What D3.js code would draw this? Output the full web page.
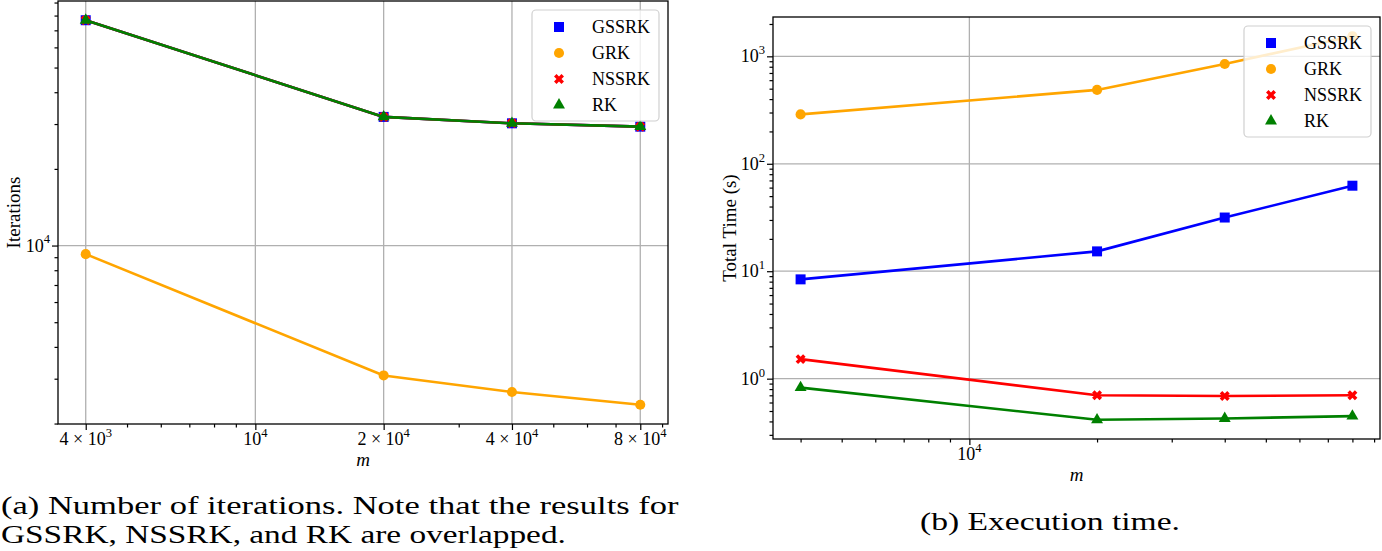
<!DOCTYPE html>
<html><head><meta charset="utf-8">
<script src="https://cdn.jsdelivr.net/npm/d3@7"></script>
</head><body style="margin:0;background:#fff">
<svg id="c" width="1382" height="551"></svg>
<script>
// ---------------- data ----------------
const mValues = [4000, 20000, 40000, 80000];
const seriesNames = ["GSSRK", "GRK", "NSSRK", "RK"];

const iterGSSRK = [76700, 32000, 30200, 29300];
const iterGRK   = [9250, 3090, 2660, 2370];
const iterNSSRK = [76700, 32000, 30200, 29300];
const iterRK    = [76700, 32000, 30200, 29300];

const timeGSSRK = [8.4, 15.3, 31.6, 62.5];
const timeGRK   = [288, 487, 849, 1540];
const timeNSSRK = [1.52, 0.70, 0.69, 0.70];
const timeRK    = [0.826, 0.414, 0.426, 0.448];

const leftXTicks = [4000, 10000, 20000, 40000, 80000];
const leftXTickLabels = ["4 × 10^3", "10^4", "2 × 10^4", "4 × 10^4", "8 × 10^4"];
const leftYTicks = [10000];
const leftYTickLabels = ["10^4"];
const rightXTicks = [10000];
const rightXTickLabels = ["10^4"];
const rightYTicks = [1, 10, 100, 1000];
const rightYTickLabels = ["10^0", "10^1", "10^2", "10^3"];

const xLabel = "m";
const leftYLabel = "Iterations";
const rightYLabel = "Total Time (s)";
const captionA = ["(a) Number of iterations. Note that the results for", "GSSRK, NSSRK, and RK are overlapped."];
const captionB = "(b) Execution time.";

// ---------------- styles ----------------
const colors = {GSSRK: "#0000ff", GRK: "#ffa500", NSSRK: "#ff0000", RK: "#008000"};
const symbols = {GSSRK: d3.symbolSquare, GRK: d3.symbolCircle, NSSRK: d3.symbolCross, RK: d3.symbolTriangle};
const symSize = {GSSRK: 100, GRK: 80, NSSRK: 62, RK: 62};
const symRot = {GSSRK: 0, GRK: 0, NSSRK: 45, RK: 0};
const FS = 18;
const FONT = '"Liberation Serif"';

const svg = d3.select("#c");

function padLog(vals) {
  const a = Math.log10(d3.min(vals)), b = Math.log10(d3.max(vals));
  const p = (b - a) * 0.05;
  return [Math.pow(10, a - p), Math.pow(10, b + p)];
}
function minorTicks(domain, exclude) {
  const out = [];
  const e0 = Math.floor(Math.log10(domain[0])), e1 = Math.ceil(Math.log10(domain[1]));
  for (let e = e0; e <= e1; e++) for (let k = 1; k <= 9; k++) {
    const v = k * Math.pow(10, e);
    if (v >= domain[0] && v <= domain[1] && !exclude.some(t => Math.abs(t - v) / v < 1e-9)) out.push(v);
  }
  return out;
}
function txt(sel) {
  return sel.append("text").style("font-family", FONT).attr("fill", "#000");
}
function supText(sel, str, size) {
  const parts = str.split("^");
  sel.append("tspan").style("font-family", FONT).style("font-size", size + "px").text(parts[0]);
  if (parts.length > 1) sel.append("tspan").attr("dy", -size * 0.45)
    .style("font-family", FONT).style("font-size", (size * 0.7) + "px").text(parts[1]);
}

function panel(p) {
  const g = svg.append("g");
  const allY = p.series.flatMap(s => s.values);
  const x = d3.scaleLog().domain(padLog(mValues)).range([p.left, p.right]);
  const y = d3.scaleLog().domain(padLog(allY)).range([p.bottom, p.top]);

  // grid
  g.append("g").selectAll("line").data(p.xTicks).join("line")
    .attr("x1", d => x(d)).attr("x2", d => x(d)).attr("y1", p.top).attr("y2", p.bottom)
    .attr("stroke", "#b0b0b0").attr("stroke-width", 1.3);
  g.append("g").selectAll("line").data(p.yTicks).join("line")
    .attr("y1", d => y(d)).attr("y2", d => y(d)).attr("x1", p.left).attr("x2", p.right)
    .attr("stroke", "#b0b0b0").attr("stroke-width", 1.3);

  // tick marks via d3 axes
  const styleAxis = a => { a.select(".domain").remove(); a.selectAll("line").attr("stroke", "#000").attr("stroke-width", 1.2); };
  g.append("g").attr("transform", `translate(0,${p.bottom})`)
    .call(d3.axisBottom(x).tickValues(minorTicks(x.domain(), p.xTicks)).tickSize(3.5).tickFormat("")).call(styleAxis);
  g.append("g").attr("transform", `translate(0,${p.bottom})`)
    .call(d3.axisBottom(x).tickValues(p.xTicks).tickSize(6).tickFormat("")).call(styleAxis);
  g.append("g").attr("transform", `translate(${p.left},0)`)
    .call(d3.axisLeft(y).tickValues(minorTicks(y.domain(), p.yTicks)).tickSize(3.5).tickFormat("")).call(styleAxis);
  g.append("g").attr("transform", `translate(${p.left},0)`)
    .call(d3.axisLeft(y).tickValues(p.yTicks).tickSize(6).tickFormat("")).call(styleAxis);

  // tick labels
  p.xTicks.forEach((t, i) => {
    const tx = txt(g).attr("x", x(t)).attr("y", p.bottom + 21)
      .attr("text-anchor", "middle").style("font-size", FS + "px");
    supText(tx, p.xTickLabels[i], FS);
  });
  p.yTicks.forEach((t, i) => {
    const tx = txt(g).attr("x", p.left - 8).attr("y", y(t) + 6)
      .attr("text-anchor", "end").style("font-size", FS + "px");
    supText(tx, p.yTickLabels[i], FS);
  });

  // axis labels
  txt(g).attr("x", (p.left + p.right) / 2).attr("y", p.bottom + 42)
    .attr("text-anchor", "middle").style("font-size", "19px").style("font-style", "italic").text(xLabel);
  txt(g).attr("transform", `translate(${p.yLabelX},${(p.top + p.bottom) / 2}) rotate(-90)`)
    .attr("text-anchor", "middle").style("font-size", "19px").text(p.yLabel);

  // series
  const line = d3.line().x((d, i) => x(mValues[i])).y(d => y(d));
  p.series.forEach(s => {
    g.append("path").attr("d", line(s.values)).attr("fill", "none")
      .attr("stroke", colors[s.name]).attr("stroke-width", 2.6).attr("stroke-linejoin", "round");
    g.append("g").selectAll("path").data(s.values).join("path")
      .attr("d", d3.symbol(symbols[s.name], symSize[s.name]))
      .attr("transform", (d, i) => `translate(${x(mValues[i])},${y(d)}) rotate(${symRot[s.name]})`)
      .attr("fill", colors[s.name]);
  });

  // frame
  g.append("rect").attr("x", p.left).attr("y", p.top).attr("width", p.right - p.left).attr("height", p.bottom - p.top)
    .attr("fill", "none").attr("stroke", "#000").attr("stroke-width", 1.3);

  // legend
  const lw = 127, lh = 111;
  const lx = p.right - 9 - lw, ly = p.top + 9;
  const lg = g.append("g");
  lg.append("rect").attr("x", lx).attr("y", ly).attr("width", lw).attr("height", lh).attr("rx", 4)
    .attr("fill", "#fff").attr("fill-opacity", 0.8).attr("stroke", "#d0d0d0").attr("stroke-width", 1.2);
  seriesNames.forEach((n, i) => {
    const yy = ly + 17 + i * 26;
    lg.append("path").attr("d", d3.symbol(symbols[n], symSize[n]))
      .attr("transform", `translate(${lx + 27},${yy}) rotate(${symRot[n]})`).attr("fill", colors[n]);
    txt(lg).attr("x", lx + 60).attr("y", yy + 6).style("font-size", FS + "px").text(n);
  });
}

panel({
  left: 58, right: 668, top: 1, bottom: 424, yLabelX: 20,
  xTicks: leftXTicks, xTickLabels: leftXTickLabels, yTicks: leftYTicks, yTickLabels: leftYTickLabels,
  yLabel: leftYLabel,
  series: [
    {name: "GSSRK", values: iterGSSRK}, {name: "GRK", values: iterGRK},
    {name: "NSSRK", values: iterNSSRK}, {name: "RK", values: iterRK}
  ]
});
panel({
  left: 773, right: 1380, top: 17, bottom: 439, yLabelX: 736,
  xTicks: rightXTicks, xTickLabels: rightXTickLabels, yTicks: rightYTicks, yTickLabels: rightYTickLabels,
  yLabel: rightYLabel,
  series: [
    {name: "GSSRK", values: timeGSSRK}, {name: "GRK", values: timeGRK},
    {name: "NSSRK", values: timeNSSRK}, {name: "RK", values: timeRK}
  ]
});

// captions: stretch horizontally (glyph scale) to the reference line widths
function caption(str, x, y, width, anchor) {
  const grp = svg.append("g");
  const t = txt(grp).attr("x", 0).attr("y", 0).attr("text-anchor", anchor).style("font-size", "26px").text(str);
  const w = t.node().getComputedTextLength() || width;
  const sx = Math.min(1.35, Math.max(1, width / w));
  grp.attr("transform", `translate(${x},${y}) scale(${sx.toFixed(3)},1)`);
  return t;
}
caption(captionA[0], 1, 514, 678, "start");
caption(captionA[1], 1, 543, 565, "start");
caption(captionB, 1050, 530, 260, "middle");
</script>
</body></html>
